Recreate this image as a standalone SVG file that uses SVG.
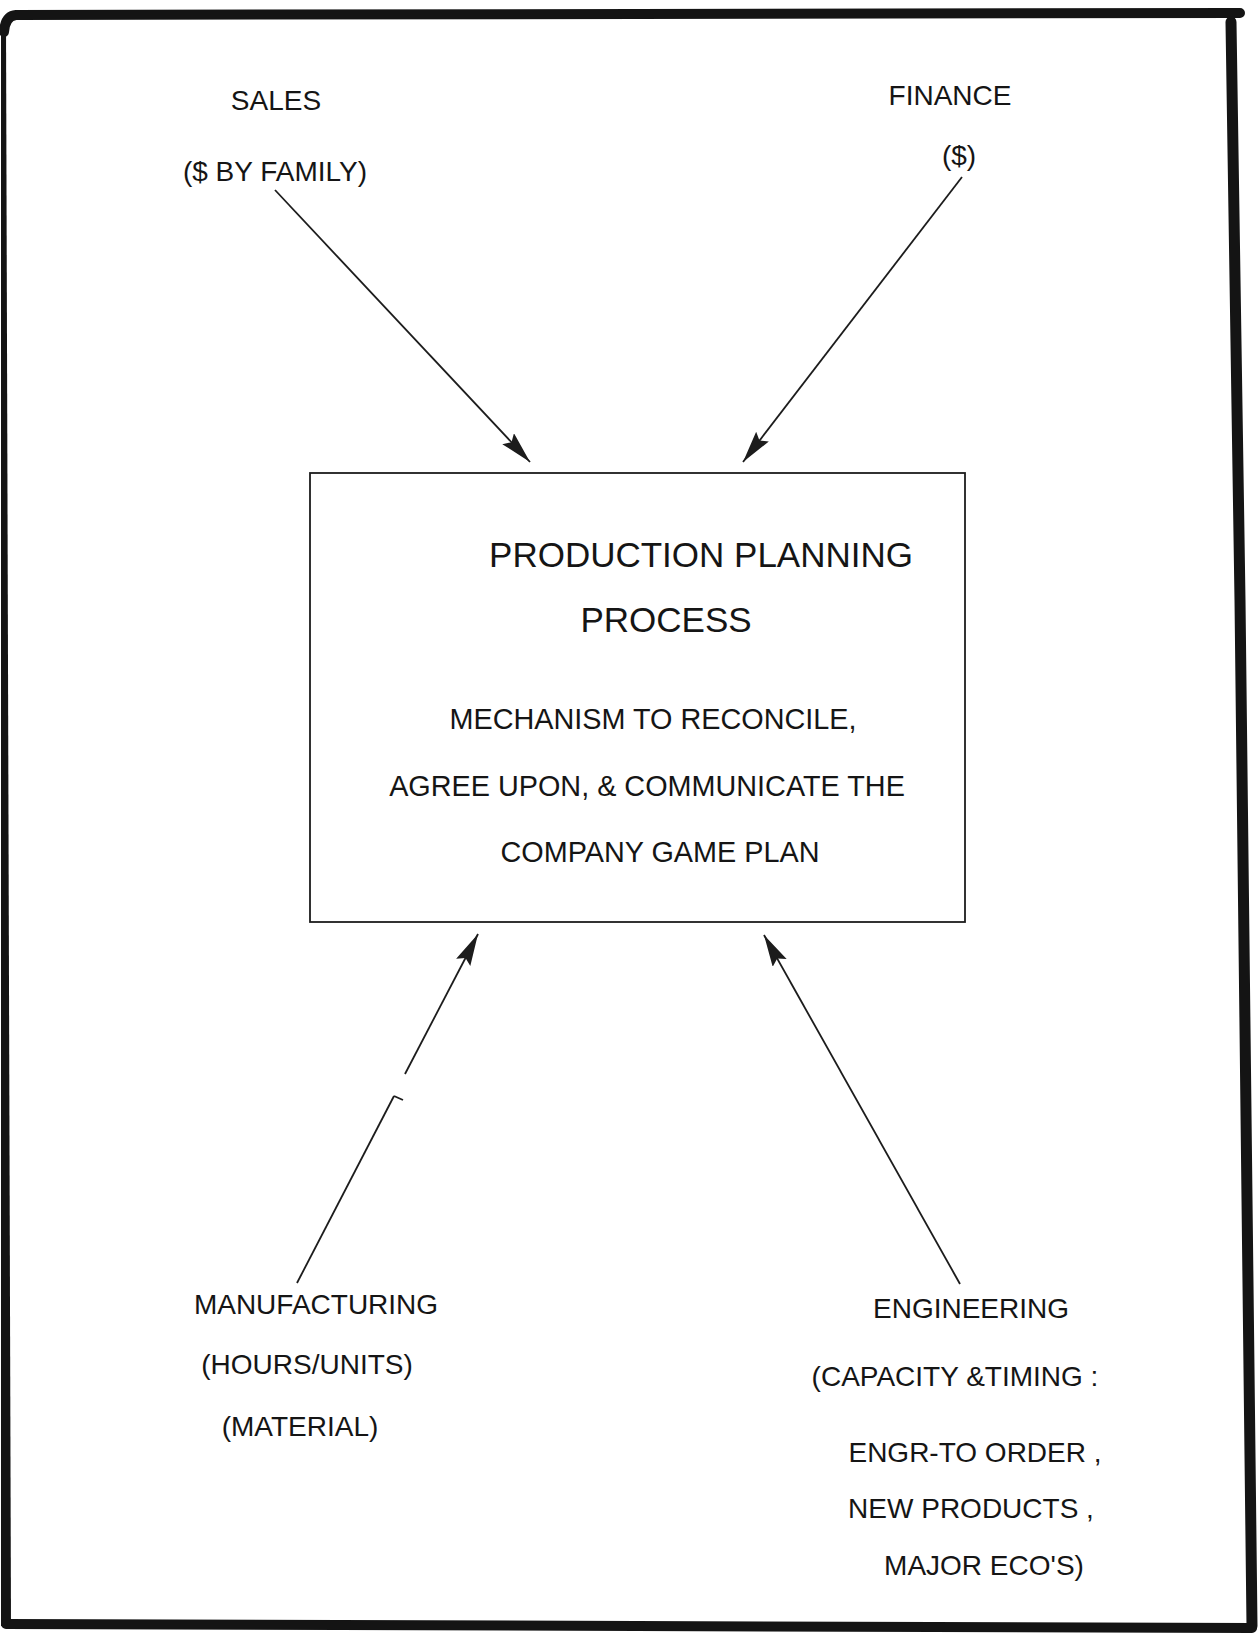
<svg xmlns="http://www.w3.org/2000/svg" width="1260" height="1633" viewBox="0 0 1260 1633">
  <style>
    .lbl { font-family: "Liberation Sans", Arial, sans-serif; font-size: 28px; fill: #151515; text-anchor: middle; }
    .title { font-family: "Liberation Sans", Arial, sans-serif; font-size: 35px; fill: #151515; text-anchor: middle; }
    .body { font-family: "Liberation Sans", Arial, sans-serif; font-size: 28.8px; fill: #151515; text-anchor: middle; }
    .frame { fill: none; stroke: #141414; stroke-linecap: round; }
    .conn { fill: none; stroke: #1c1c1c; stroke-width: 1.8; }
  </style>
  <defs>
    <marker id="head" markerUnits="userSpaceOnUse" markerWidth="34" markerHeight="18" refX="32" refY="8" orient="auto">
      <path d="M0,0 L32,8 L0,16 L5,8 z" fill="#1c1c1c"/>
    </marker>
  </defs>

  <rect width="1260" height="1633" fill="#ffffff"/>

  <!-- heavy hand-drawn page frame -->
  <g id="frame">
    <path class="frame" d="M4,32 Q5,16 16,15 L1240,13" stroke-width="10"/>
    <path class="frame" d="M1231,22 L1240,600 L1252,1626" stroke-width="11"/>
    <path class="frame" d="M6,1624 L1252,1628" stroke-width="10"/>
    <path d="M1,22 L6,22 L11,1626 L1,1626 z" fill="#141414"/>
  </g>

  <!-- central process box -->
  <g id="process">
    <rect x="310" y="473" width="655" height="449" fill="none" stroke="#1c1c1c" stroke-width="1.8"/>
    <text class="title" x="701" y="567">PRODUCTION PLANNING</text>
    <text class="title" x="666" y="632">PROCESS</text>
    <text class="body" x="653" y="729">MECHANISM TO RECONCILE,</text>
    <text class="body" x="647" y="796">AGREE UPON, &amp; COMMUNICATE THE</text>
    <text class="body" x="660" y="862">COMPANY GAME PLAN</text>
  </g>

  <g id="sales">
    <text class="lbl" x="276" y="110">SALES</text>
    <text class="lbl" x="275" y="181">($ BY FAMILY)</text>
  </g>

  <g id="finance">
    <text class="lbl" x="950" y="105">FINANCE</text>
    <text class="lbl" x="959" y="165">($)</text>
  </g>

  <g id="manufacturing">
    <text class="lbl" x="316" y="1314">MANUFACTURING</text>
    <text class="lbl" x="307" y="1374">(HOURS/UNITS)</text>
    <text class="lbl" x="300" y="1436">(MATERIAL)</text>
  </g>

  <g id="engineering">
    <text class="lbl" x="971" y="1318">ENGINEERING</text>
    <text class="lbl" x="955" y="1386">(CAPACITY &amp;TIMING :</text>
    <text class="lbl" x="975" y="1462">ENGR-TO ORDER ,</text>
    <text class="lbl" x="971" y="1518">NEW PRODUCTS ,</text>
    <text class="lbl" x="984" y="1575">MAJOR ECO'S)</text>
  </g>

  <!-- inputs feeding the planning process -->
  <g id="connectors">
    <line class="conn" x1="275" y1="190" x2="530" y2="462" marker-end="url(#head)"/>
    <line class="conn" x1="962" y1="177" x2="743" y2="462" marker-end="url(#head)"/>
    <line class="conn" x1="297" y1="1283" x2="394" y2="1096"/>
    <path class="conn" d="M394,1096 L403,1100" stroke-width="1.2"/>
    <line class="conn" x1="405" y1="1074" x2="478" y2="934" marker-end="url(#head)"/>
    <line class="conn" x1="960" y1="1284" x2="764" y2="935" marker-end="url(#head)"/>
  </g>
</svg>
